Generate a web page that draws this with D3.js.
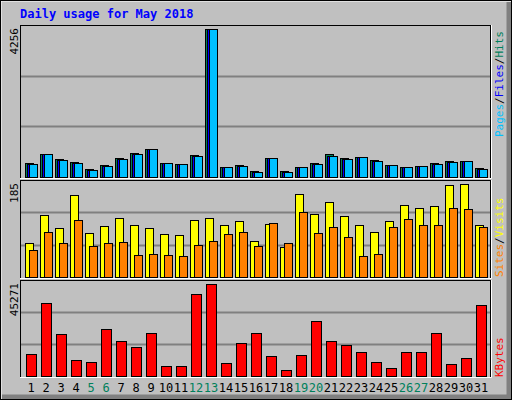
<!DOCTYPE html>
<html>
<head>
<meta charset="utf-8">
<script src="https://cdn.jsdelivr.net/npm/d3@7"></script>
<style>body{margin:0;background:#fff}</style>
</head>
<body>
<svg id="chart" width="512" height="400"></svg>
<script>
const days = d3.range(1, 32);
const weekends = [5, 6, 12, 13, 19, 20, 26, 27];
const hits = [400,660,518,431,230,345,546,690,805,400,374,633,4256,288,345,173,546,173,288,403,660,546,575,489,345,288,316,403,460,460,259];
const files = [374,660,489,400,200,316,518,660,805,400,374,604,4256,288,316,144,546,144,288,374,604,518,575,460,345,288,316,374,431,460,230];
const pages = [374,660,489,400,200,316,518,660,805,400,374,604,4256,288,316,144,546,144,288,374,604,518,575,460,345,288,316,374,431,460,230];
const visits = [68,123,97,163,88,101,117,103,97,86,84,113,117,103,111,72,105,60,165,125,149,121,103,90,111,143,137,141,183,185,103];
const sites = [54,90,68,113,62,68,70,44,46,44,42,64,72,86,90,62,107,68,129,88,99,80,42,46,99,115,103,103,137,136,99];
const kbytes = [10600,35860,20500,7630,7130,22980,17040,14070,21000,5150,5150,40320,45271,6640,16050,21000,9610,3170,10100,26940,17040,15060,11590,7130,4160,11590,11590,21000,6140,8620,34870];

const W = 512, H = 400;
const svg = d3.select("#chart");
const mono = "'DejaVu Sans Mono', monospace";

// frame
svg.append("rect").attr("width", W).attr("height", H).attr("fill", "#c0c0c0");
svg.append("path").attr("d", `M0.5,${H-0.5}V0.5H${W-0.5}`).attr("stroke", "#fff").attr("stroke-width", 2).attr("fill", "none");
svg.append("path").attr("d", `M${W-3},2V${H-3}H2`).attr("stroke", "#808080").attr("stroke-width", 5).attr("fill", "none");
svg.append("rect").attr("x", 0.5).attr("y", 0.5).attr("width", W-1).attr("height", H-1).attr("fill", "none").attr("stroke", "#000");

svg.append("text").attr("x", 20).attr("y", 18)
    .style("font-family", mono).style("font-size", "12px").style("font-weight", "bold")
    .attr("fill", "#0000ff").text("Daily usage for May 2018");

const x = d3.scaleBand().domain(days).range([20, 485]);

const panels = [
    { top: 25, base: 177, bottom: 179, max: 4256, maxY: 29 },
    { top: 180, base: 277, bottom: 279, max: 185, maxY: 184 },
    { top: 280, base: 376, bottom: 378, max: 45271, maxY: 284 }
];

panels.forEach(p => {
    p.y = d3.scaleLinear().domain([0, p.max]).range([p.base, p.maxY]);
    svg.append("rect").attr("x", 20.5).attr("y", p.top + 0.5).attr("width", 470).attr("height", p.bottom - p.top - 1)
        .attr("fill", "#c0c0c0").attr("stroke", "#000");
    svg.append("path").attr("d", `M20,${p.bottom - 0.5}H491.5V${p.top}`).attr("stroke", "#fff").attr("fill", "none");
    [1, 2].forEach(i => {
        const gy = Math.round(p.base - (p.base - p.top) * i / 3) + 0.5;
        svg.append("line").attr("x1", 21).attr("x2", 490).attr("y1", gy).attr("y2", gy)
            .attr("stroke", "#808080").attr("stroke-width", 2);
    });
    svg.append("text").attr("transform", `translate(18,${p.top + 3}) rotate(-90)`)
        .attr("text-anchor", "end").style("font-family", mono).style("font-size", "11px")
        .attr("fill", "#000").text(p.max);
});

function bars(panel, vals, off, w, color) {
    svg.append("g").selectAll("rect").data(vals).enter().append("rect")
        .attr("x", (d, i) => x(days[i]) + off + 0.5)
        .attr("y", d => Math.round(panel.y(d)) + 0.5)
        .attr("width", w)
        .attr("height", d => panel.base - Math.round(panel.y(d)))
        .attr("fill", color).attr("stroke", "#000");
}

bars(panels[0], hits, 5, 8, "#00805c");
bars(panels[0], files, 7, 8, "#0000ff");
bars(panels[0], pages, 9, 8, "#00c0ff");
bars(panels[1], visits, 5, 8, "#ffff00");
bars(panels[1], sites, 9, 8, "#ff8000");
bars(panels[2], kbytes, 6, 10, "#ff0000");

// day labels
svg.append("g").selectAll("text").data(days).enter().append("text")
    .attr("x", d => x(d) + 11).attr("y", 392).attr("text-anchor", "middle")
    .style("font-family", mono).style("font-size", "12px")
    .attr("fill", d => weekends.includes(d) ? "#00805c" : "#000")
    .text(d => d);

// right legends
function legend(yEnd, parts) {
    const t = svg.append("text").attr("transform", `translate(503,${yEnd}) rotate(-90)`)
        .style("font-family", mono).style("font-size", "11px");
    parts.forEach(([s, c]) => t.append("tspan").attr("fill", c).text(s));
}
legend(137, [["Pages", "#00c0ff"], ["/", "#000"], ["Files", "#0000ff"], ["/", "#000"], ["Hits", "#00805c"]]);
legend(277, [["Sites", "#ff8000"], ["/", "#000"], ["Visits", "#ffff00"]]);
legend(377, [["KBytes", "#ff0000"]]);
</script>
</body>
</html>
